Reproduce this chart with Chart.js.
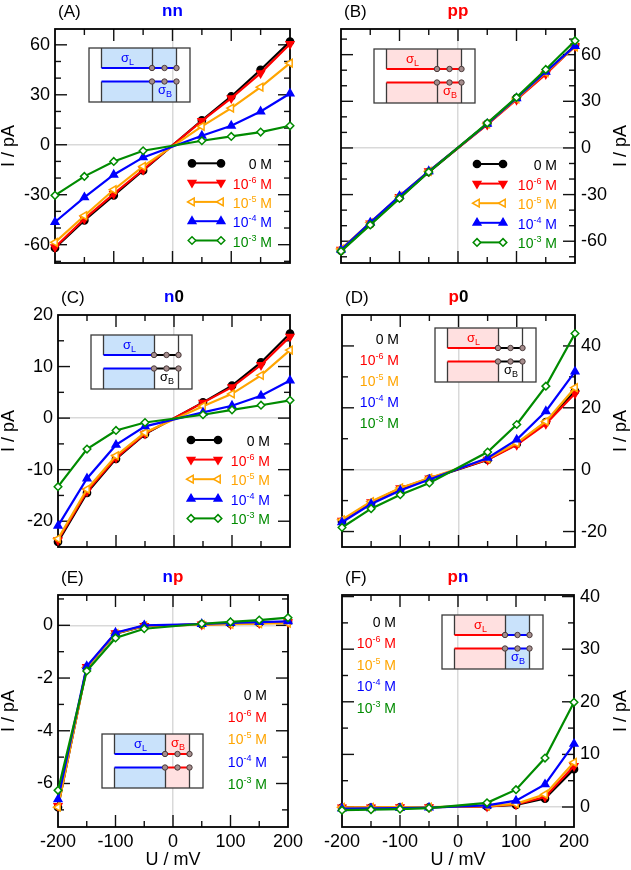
<!DOCTYPE html>
<html>
<head>
<meta charset="utf-8">
<script src="https://cdn.jsdelivr.net/npm/chart.js@4.4.1/dist/chart.umd.min.js"></script>
<style>
  html, body { margin: 0; padding: 0; background: #fff; }
  #page { position: relative; width: 631px; height: 870px; overflow: hidden; }
  #page canvas { position: absolute; }
</style>
</head>
<body>
<div id="page"></div>
<script>
// applied voltage (mV)
const voltages = [-200, -150, -100, -50, 50, 100, 150, 200];
const xTickLabels = [-200, -100, 0, 100, 200];

// concentrations: 0 M, 10^-6 M ... 10^-3 M
const concBase = ['0', '10', '10', '10', '10'];
const concExp = ['', '-6', '-5', '-4', '-3'];

// currents (pA), one row per concentration
const currentNN = [
  [-62, -45.4, -30.4, -15.4, 14.6, 29, 45, 62],
  [-61.5, -44.5, -29.5, -15, 14.3, 28, 43, 60.5],
  [-58.6, -42.6, -27, -13, 11, 22, 34.6, 49],
  [-46.4, -31.6, -18, -7.6, 5.4, 11.4, 20, 30.8],
  [-30.4, -19, -10, -3.6, 2.4, 5, 7.6, 11.4]
];
const currentPP = [
  [-66, -49, -32, -15.5, 15.5, 32, 48.5, 66],
  [-65.5, -48.5, -31.5, -15, 15, 31, 47.5, 65.5],
  [-65, -48, -31, -15, 15.5, 31.5, 48.5, 65],
  [-65.5, -48, -31, -15, 15.5, 32, 49, 65.5],
  [-66.5, -49.5, -32.5, -15.5, 16, 32.5, 50.5, 69]
];
const currentN0 = [
  [-24, -14.5, -7.9, -3.1, 3.05, 6.3, 10.8, 16.4],
  [-23.7, -14.2, -7.7, -3, 3, 6, 10.3, 15.8],
  [-23.4, -13.8, -7.3, -2.8, 2.3, 4.7, 8.3, 13.2],
  [-20.9, -11.7, -5.2, -1.6, 1.1, 2.4, 4.35, 7.3],
  [-13.3, -6, -2.4, -0.85, 0.65, 1.6, 2.5, 3.45]
];
const currentP0 = [
  [-16.8, -10.8, -6.3, -3, 3.2, 8.3, 15.4, 25.4],
  [-16.5, -10.5, -6, -2.8, 3.2, 8, 14.8, 24.6],
  [-16.2, -10.3, -5.9, -2.7, 3.5, 8.6, 15.6, 26.5],
  [-17, -11.1, -6.7, -3.2, 3.8, 9.7, 18.9, 31.7],
  [-18.7, -12.6, -8.1, -4.3, 5.7, 14.6, 27, 44]
];
const currentNP = [
  [-6.9, -1.6, -0.32, -0.03, 0.04, 0.06, 0.09, 0.13],
  [-6.85, -1.58, -0.3, -0.02, 0.03, 0.05, 0.08, 0.12],
  [-6.9, -1.6, -0.31, -0.02, 0.03, 0.04, 0.06, 0.08],
  [-6.6, -1.55, -0.28, 0, 0.05, 0.09, 0.12, 0.15],
  [-6.26, -1.73, -0.48, -0.13, 0.06, 0.13, 0.2, 0.29]
];
const currentPN = [
  [-0.1, -0.1, -0.05, -0.05, 0.1, 0.4, 1.6, 7.2],
  [-0.1, -0.1, -0.05, -0.05, 0.1, 0.5, 1.9, 7.8],
  [-0.05, -0.05, 0, 0, 0.15, 0.6, 2.4, 8.5],
  [-0.3, -0.25, -0.2, -0.1, 0.3, 1.2, 4.3, 12],
  [-0.6, -0.5, -0.4, -0.2, 0.8, 3.3, 9.3, 19.9]
];

// y tick labels per panel
const yTicksNN = [-60, -30, 0, 30, 60];
const yTicksPP = [-60, -30, 0, 30, 60];
const yTicksN0 = [-20, -10, 0, 10, 20];
const yTicksP0 = [-20, 0, 20, 40];
const yTicksNP = [-6, -4, -2, 0];
const yTicksPN = [0, 10, 20, 30, 40];

const FONT = "'Liberation Sans', Arial, Helvetica, sans-serif";
const BLUE = '#0000ff', RED = '#ff0000', ORANGE = '#ffa500', GREEN = '#008b00', BLACK = '#000000';
const ZERO = '#d9d9d9';
const seriesColors = [BLACK, RED, ORANGE, BLUE, GREEN];
const seriesStyles = [
  { pointStyle: 'circle', rotation: 0, radius: 3.6, open: false },
  { pointStyle: 'triangle', rotation: 180, radius: 4.4, open: false },
  { pointStyle: 'triangle', rotation: 270, radius: 4.4, open: true },
  { pointStyle: 'triangle', rotation: 0, radius: 4.4, open: false },
  { pointStyle: 'rectRot', rotation: 0, radius: 3.8, open: true }
];

Chart.defaults.font.family = FONT;
Chart.defaults.color = '#000';

const panels = [
  { key: 'A', data: currentNN, yTicks: yTicksNN, yMin: -71, yMax: 69.5, yStep: 10,
    left: 0, top: 0, w: 315, h: 290, area: { l: 55, r: 290, t: 29, b: 263 }, side: 'left', bottomRow: false,
    title: [['nn', BLUE]], channel: ['n', 'n'], inset: { x: 89, y: 48, bTop: false },
    legend: { right: 272, y: 163.3, dy: 19.3, sample: [192, 221] } },
  { key: 'B', data: currentPP, yTicks: yTicksPP, yMin: -74, yMax: 76.5, yStep: 10,
    left: 315, top: 0, w: 316, h: 290, area: { l: 26, r: 260, t: 29, b: 263 }, side: 'right', bottomRow: false,
    title: [['pp', RED]], channel: ['p', 'p'], inset: { x: 59, y: 49, bTop: false },
    legend: { right: 242, y: 164, dy: 19.6, sample: [162, 188] } },
  { key: 'C', data: currentN0, yTicks: yTicksN0, yMin: -25, yMax: 20, yStep: 5,
    left: 0, top: 290, w: 315, h: 290, area: { l: 58, r: 290, t: 25, b: 257 }, side: 'left', bottomRow: false,
    title: [['n', BLUE], ['0', BLACK]], channel: ['n', '0'], inset: { x: 91, y: 45, bTop: false },
    legend: { right: 270, y: 150, dy: 19.6, sample: [191, 218] } },
  { key: 'D', data: currentP0, yTicks: yTicksP0, yMin: -25, yMax: 50, yStep: 10,
    left: 315, top: 290, w: 316, h: 290, area: { l: 27, r: 260, t: 25, b: 257 }, side: 'right', bottomRow: false,
    title: [['p', RED], ['0', BLACK]], channel: ['p', '0'], inset: { x: 120, y: 38, bTop: false },
    legend: { right: 84, y: 49.3, dy: 21 } },
  { key: 'E', data: currentNP, yTicks: yTicksNP, yMin: -7.65, yMax: 1.15, yStep: 1,
    left: 0, top: 560, w: 315, h: 310, area: { l: 58, r: 288, t: 35, b: 267 }, side: 'left', bottomRow: true,
    title: [['n', BLUE], ['p', RED]], channel: ['n', 'p'], inset: { x: 102, y: 174, bTop: true },
    legend: { right: 267, y: 135, dy: 22.2 } },
  { key: 'F', data: currentPN, yTicks: yTicksPN, yMin: -3.8, yMax: 40.3, yStep: 5,
    left: 315, top: 560, w: 316, h: 310, area: { l: 27, r: 259, t: 35, b: 267 }, side: 'right', bottomRow: true,
    title: [['p', RED], ['n', BLUE]], channel: ['p', 'n'], inset: { x: 127, y: 55, bTop: false },
    legend: { right: 81, y: 61.7, dy: 21.5 } }
];

function seg(ctx, x0, y0, x1, y1) {
  ctx.beginPath(); ctx.moveTo(x0, y0); ctx.lineTo(x1, y1); ctx.stroke();
}

function drawMarker(ctx, st, x, y, color) {
  const r = st.radius;
  ctx.beginPath();
  if (st.pointStyle === 'circle') {
    ctx.arc(x, y, r, 0, Math.PI * 2);
  } else if (st.pointStyle === 'triangle') {
    let a = st.rotation * Math.PI / 180;
    for (let k = 0; k < 3; k++) {
      const px = x + Math.sin(a) * r, py = y - Math.cos(a) * r;
      if (k === 0) ctx.moveTo(px, py); else ctx.lineTo(px, py);
      a += Math.PI * 2 / 3;
    }
    ctx.closePath();
  } else {
    ctx.moveTo(x, y - r); ctx.lineTo(x + r, y); ctx.lineTo(x, y + r); ctx.lineTo(x - r, y);
    ctx.closePath();
  }
  ctx.fillStyle = st.open ? '#fff' : color;
  ctx.fill();
  ctx.lineWidth = 1.5;
  ctx.strokeStyle = color;
  ctx.stroke();
}

// text with an optional superscript / subscript piece, right or left anchored
function drawPieces(ctx, pieces, x, y, align) {
  let total = 0;
  pieces.forEach(p => { ctx.font = p.font; p.w = ctx.measureText(p.text).width; total += p.w; });
  let cx = align === 'right' ? x - total : x;
  ctx.textAlign = 'left';
  ctx.textBaseline = 'alphabetic';
  pieces.forEach(p => {
    ctx.font = p.font;
    ctx.fillText(p.text, cx, y + (p.dy || 0));
    cx += p.w;
  });
}

function concPieces(i) {
  const main = '14px ' + FONT, small = '9px ' + FONT;
  if (!concExp[i]) return [{ text: concBase[i] + ' M', font: main }];
  return [
    { text: concBase[i], font: main },
    { text: concExp[i], font: small, dy: -6 },
    { text: ' M', font: main }
  ];
}

function drawInset(ctx, x, y, cL, cB, bTop) {
  const fill = { n: '#c9e2fb', p: '#ffe0e0', '0': '#ffffff' };
  const wall = { n: BLUE, p: RED, '0': BLACK };
  const W = 101, H = 54;
  const x1 = x + 12.5, x2 = x + 63.5, x3 = x + 87.5, yU = y + 20, yD = y + 33.5;
  ctx.save();
  ctx.fillStyle = fill[cL];
  ctx.fillRect(x1, y, x2 - x1, yU - y);
  ctx.fillRect(x1, yD, x2 - x1, y + H - yD);
  ctx.fillStyle = fill[cB];
  ctx.fillRect(x2, y, x3 - x2, yU - y);
  ctx.fillRect(x2, yD, x3 - x2, y + H - yD);
  ctx.strokeStyle = '#3a3a3a';
  ctx.lineWidth = 1.3;
  ctx.strokeRect(x, y, W, H);
  [x1, x2, x3].forEach(xx => { seg(ctx, xx, y, xx, yU); seg(ctx, xx, yD, xx, y + H); });
  ctx.lineWidth = 2;
  [yU, yD].forEach(yy => {
    ctx.strokeStyle = wall[cL]; seg(ctx, x1, yy, x2, yy);
    ctx.strokeStyle = wall[cB]; seg(ctx, x2, yy, x3 + 2, yy);
  });
  [x2 - 0.5, x2 + 12, x3].forEach(cx => {
    [yU, yD].forEach(cy => {
      ctx.beginPath(); ctx.arc(cx, cy, 2.7, 0, Math.PI * 2);
      ctx.fillStyle = '#a58d8d'; ctx.fill();
      ctx.lineWidth = 1; ctx.strokeStyle = '#4a3a3a'; ctx.stroke();
    });
  });
  const big = '13px ' + FONT, sub = '9px ' + FONT;
  ctx.fillStyle = wall[cL];
  drawPieces(ctx, [{ text: '\u03c3', font: big }, { text: 'L', font: sub, dy: 3 }], x + 32, y + 14, 'left');
  ctx.fillStyle = wall[cB];
  drawPieces(ctx, [{ text: '\u03c3', font: big }, { text: 'B', font: sub, dy: 3 }], x + 69, bTop ? y + 13 : y + 46, 'left');
  ctx.restore();
}

function makeDeco(p) {
  return {
    id: 'deco' + p.key,
    beforeDatasetsDraw(chart) {
      const ctx = chart.ctx, a = chart.chartArea;
      const xs = chart.scales.x, ys = chart.scales.y;
      ctx.save();
      ctx.strokeStyle = '#111';
      ctx.lineWidth = 1.4;
      xs.ticks.forEach(t => {
        if (t.value <= xs.min || t.value >= xs.max) return;
        const px = xs.getPixelForValue(t.value);
        const len = xTickLabels.includes(t.value) ? 12 : 6;
        seg(ctx, px, a.bottom, px, a.bottom - len);
        seg(ctx, px, a.top, px, a.top + len);
      });
      ys.ticks.forEach(t => {
        if (t.value <= ys.min || t.value >= ys.max) return;
        const py = ys.getPixelForValue(t.value);
        const len = p.yTicks.includes(t.value) ? 12 : 6;
        seg(ctx, a.left, py, a.left + len, py);
        seg(ctx, a.right, py, a.right - len, py);
      });
      ctx.lineWidth = 1.8;
      ctx.strokeStyle = '#000';
      ctx.strokeRect(a.left, a.top, a.right - a.left, a.bottom - a.top);
      ctx.restore();
    },
    afterDraw(chart) {
      const ctx = chart.ctx, a = chart.chartArea;
      ctx.save();
      // panel letter
      ctx.fillStyle = '#000';
      ctx.font = '17px ' + FONT;
      ctx.textAlign = 'left';
      ctx.textBaseline = 'alphabetic';
      ctx.fillText('(' + p.key + ')', a.left + 3, a.top - 12);
      // coloured title
      ctx.font = 'bold 17px ' + FONT;
      let tw = 0;
      p.title.forEach(s => { tw += ctx.measureText(s[0]).width; });
      let tx = (a.left + a.right) / 2 - tw / 2;
      p.title.forEach(s => {
        ctx.fillStyle = s[1];
        ctx.fillText(s[0], tx, a.top - 13);
        tx += ctx.measureText(s[0]).width;
      });
      // y title on the right side, reading upwards
      if (p.side === 'right') {
        ctx.save();
        ctx.translate(chart.width - 10, (a.top + a.bottom) / 2);
        ctx.rotate(-Math.PI / 2);
        ctx.font = '18px ' + FONT;
        ctx.fillStyle = '#000';
        ctx.textAlign = 'center';
        ctx.textBaseline = 'middle';
        ctx.fillText('I / pA', 0, 0);
        ctx.restore();
      }
      // channel sketch
      drawInset(ctx, p.inset.x, p.inset.y, p.channel[0], p.channel[1], p.inset.bTop);
      // legend
      const lg = p.legend;
      chart.data.datasets.forEach((ds, i) => {
        const y = lg.y + i * lg.dy;
        if (lg.sample) {
          ctx.strokeStyle = seriesColors[i];
          ctx.lineWidth = 2;
          seg(ctx, lg.sample[0], y, lg.sample[1], y);
          drawMarker(ctx, seriesStyles[i], lg.sample[0], y, seriesColors[i]);
          drawMarker(ctx, seriesStyles[i], lg.sample[1], y, seriesColors[i]);
        }
        ctx.fillStyle = seriesColors[i];
        drawPieces(ctx, concPieces(i), lg.right, y + (lg.sample ? 6 : 5), 'right');
      });
      ctx.restore();
    }
  };
}

const page = document.getElementById('page');

panels.forEach(p => {
  const canvas = document.createElement('canvas');
  canvas.width = p.w;
  canvas.height = p.h;
  canvas.style.left = p.left + 'px';
  canvas.style.top = p.top + 'px';
  canvas.style.width = p.w + 'px';
  canvas.style.height = p.h + 'px';
  page.appendChild(canvas);

  const datasets = p.data.map((row, i) => ({
    label: concBase[i] + (concExp[i] ? '^' + concExp[i] : '') + ' M',
    data: voltages.map((v, k) => ({ x: v, y: row[k] })),
    borderColor: seriesColors[i],
    borderWidth: 2.2,
    pointStyle: seriesStyles[i].pointStyle,
    pointRotation: seriesStyles[i].rotation,
    pointRadius: seriesStyles[i].radius,
    pointHoverRadius: seriesStyles[i].radius,
    pointBorderWidth: 1.5,
    pointBorderColor: seriesColors[i],
    pointBackgroundColor: seriesStyles[i].open ? '#ffffff' : seriesColors[i],
    tension: 0,
    fill: false,
    clip: false,
    order: 4 - i
  }));

  const padding = p.side === 'left'
    ? { left: 0, right: p.w - p.area.r, top: p.area.t, bottom: 0 }
    : { left: p.area.l, right: 0, top: p.area.t, bottom: 0 };
  const yWidth = p.side === 'left' ? p.area.l : p.w - p.area.r;
  const xHeight = p.h - p.area.b;

  new Chart(canvas.getContext('2d'), {
    type: 'line',
    data: { datasets },
    options: {
      responsive: false,
      animation: false,
      events: [],
      layout: { padding },
      plugins: { legend: { display: false }, tooltip: { enabled: false } },
      scales: {
        x: {
          type: 'linear',
          min: -200,
          max: 200,
          ticks: {
            stepSize: 50,
            autoSkip: false,
            includeBounds: false,
            maxRotation: 0,
            padding: 4,
            color: '#000',
            font: { size: 18 },
            callback: v => (p.bottomRow && xTickLabels.includes(v)) ? String(v) : ''
          },
          grid: {
            drawTicks: false,
            lineWidth: 1.5,
            color: c => (c.tick && c.tick.value === 0) ? ZERO : 'rgba(0,0,0,0)'
          },
          border: { display: false },
          title: {
            display: p.bottomRow,
            text: 'U / mV',
            color: '#000',
            font: { size: 18, lineHeight: 1 },
            padding: { top: 0, bottom: 1 }
          },
          afterFit: s => { s.height = xHeight; }
        },
        y: {
          type: 'linear',
          position: p.side,
          min: p.yMin,
          max: p.yMax,
          ticks: {
            stepSize: p.yStep,
            autoSkip: false,
            includeBounds: false,
            padding: p.side === 'left' ? 5 : 6,
            color: '#000',
            font: { size: 18 },
            callback: v => p.yTicks.includes(v) ? String(v) : ''
          },
          grid: {
            drawTicks: false,
            lineWidth: 1.5,
            color: c => (c.tick && c.tick.value === 0) ? ZERO : 'rgba(0,0,0,0)'
          },
          border: { display: false },
          title: {
            display: p.side === 'left',
            text: 'I / pA',
            color: '#000',
            font: { size: 18, lineHeight: 1 },
            padding: { top: 0, bottom: 0 }
          },
          afterFit: s => { s.width = yWidth; }
        }
      }
    },
    plugins: [makeDeco(p)]
  });
});
</script>
</body>
</html>
